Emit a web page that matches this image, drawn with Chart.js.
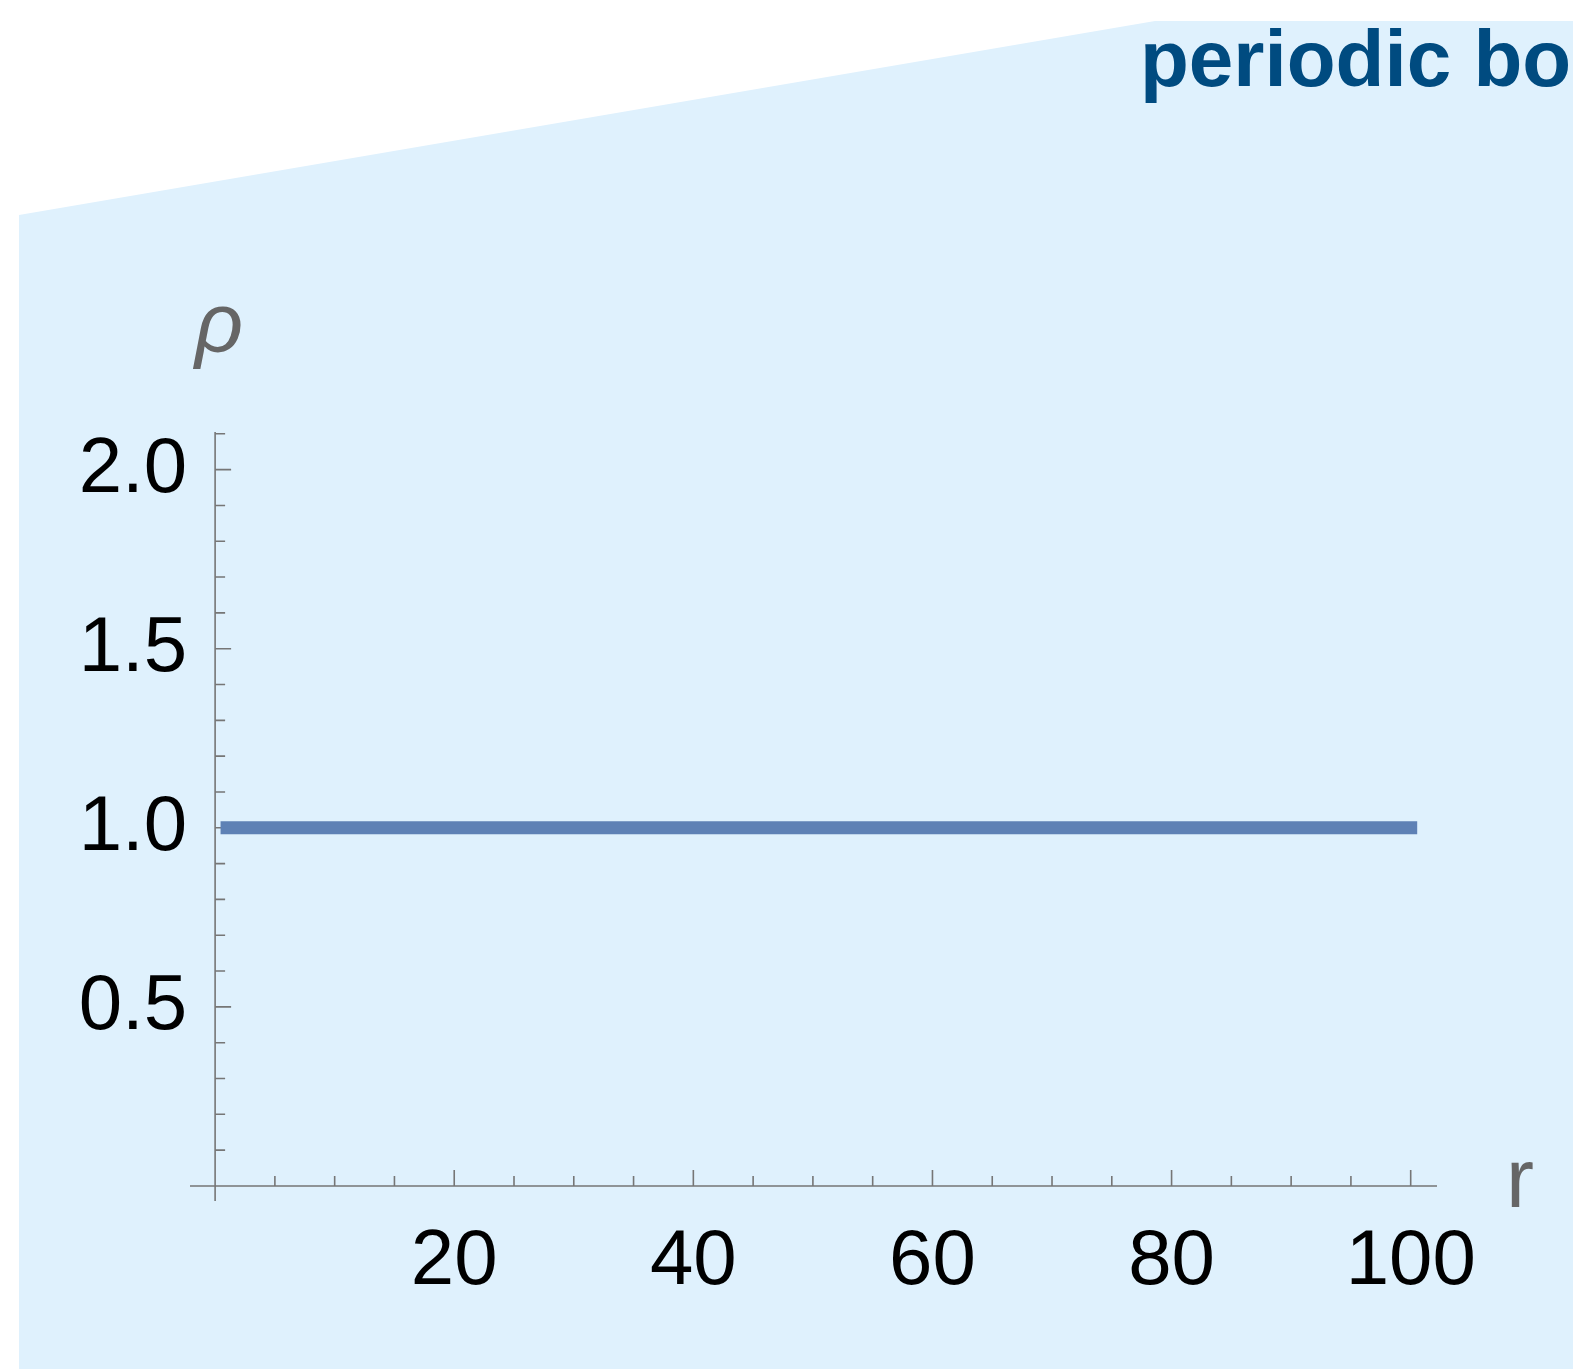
<!DOCTYPE html>
<html>
<head>
<meta charset="utf-8">
<script src="https://cdn.jsdelivr.net/npm/chart.js@4/dist/chart.umd.min.js"></script>
<style>
  html, body { margin: 0; padding: 0; background: #ffffff; }
  #wrap { position: relative; width: 1573px; height: 1369px; overflow: hidden; }
  canvas { display: block; }
</style>
</head>
<body>
<div id="wrap"><canvas id="c" width="1573" height="1369"></canvas></div>
<script>
// ---- data ----
const rValues = [1, 100];
const rhoValues = [1.0, 1.0];
const xTickLabels = [20, 40, 60, 80, 100];
const yTickLabels = [0.5, 1.0, 1.5, 2.0];
const titleText = "periodic boundary conditions";
const xAxisTitle = "r";
const yAxisTitle = "ρ";

const xMinor = [];
for (let v = 5; v <= 100; v += 5) xMinor.push(v);
const yMinor = [];
for (let i = 1; i <= 21; i++) yMinor.push(i / 10);

const FONT = "'Liberation Sans', Arial, Helvetica, sans-serif";
const AXIS_COLOR = 'rgb(118,118,118)';

const decor = {
  id: 'decor',
  beforeDraw(chart) {
    const ctx = chart.ctx;
    ctx.save();
    ctx.fillStyle = '#ffffff';
    ctx.fillRect(0, 0, chart.width, chart.height);
    ctx.fillStyle = '#dff1fd';
    ctx.beginPath();
    ctx.moveTo(19, chart.height);
    ctx.lineTo(19, 215);
    ctx.lineTo(1155, 21);
    ctx.lineTo(chart.width, 21);
    ctx.lineTo(chart.width, chart.height);
    ctx.closePath();
    ctx.fill();
    ctx.restore();
  },
  beforeDatasetsDraw(chart) {
    const ctx = chart.ctx;
    const xs = chart.scales.x, ys = chart.scales.y;
    const x0 = xs.getPixelForValue(0), y0 = ys.getPixelForValue(0);
    ctx.save();
    ctx.strokeStyle = AXIS_COLOR;
    ctx.lineWidth = 1.6;
    // axes
    ctx.beginPath();
    ctx.moveTo(xs.left, y0); ctx.lineTo(xs.right, y0);
    ctx.moveTo(x0, ys.bottom); ctx.lineTo(x0, ys.top);
    ctx.stroke();
    // ticks
    ctx.beginPath();
    xMinor.forEach(v => {
      const px = xs.getPixelForValue(v);
      const len = xTickLabels.includes(v) ? 16 : 10;
      ctx.moveTo(px, y0); ctx.lineTo(px, y0 - len);
    });
    yMinor.forEach(v => {
      const py = ys.getPixelForValue(v);
      const major = yTickLabels.some(t => Math.abs(t - v) < 1e-9);
      const len = major ? 16 : 10;
      ctx.moveTo(x0, py); ctx.lineTo(x0 + len, py);
    });
    ctx.stroke();
    // tick labels
    ctx.fillStyle = '#000000';
    ctx.font = '78px ' + FONT;
    ctx.textAlign = 'center';
    ctx.textBaseline = 'alphabetic';
    xTickLabels.forEach(v => {
      ctx.fillText(String(v), xs.getPixelForValue(v), y0 + 98);
    });
    ctx.textAlign = 'right';
    yTickLabels.forEach(v => {
      ctx.fillText(v.toFixed(1), x0 - 28, ys.getPixelForValue(v) + 22);
    });
    // axis titles
    ctx.fillStyle = 'rgb(102,102,102)';
    ctx.font = '84px ' + FONT;
    ctx.textAlign = 'left';
    ctx.fillText(xAxisTitle, 1506, 1207);
    ctx.font = 'italic 84px ' + FONT;
    ctx.fillText(yAxisTitle, 195, 352);
    // title
    ctx.fillStyle = 'rgb(0,75,128)';
    ctx.font = 'bold 80px ' + FONT;
    ctx.fillText(titleText, 1140, 86);
    ctx.restore();
  }
};

new Chart(document.getElementById('c'), {
  type: 'line',
  data: {
    datasets: [{
      data: rValues.map((r, i) => ({ x: r, y: rhoValues[i] })),
      borderColor: '#5e81b5',
      borderWidth: 13,
      borderCapStyle: 'square',
      pointRadius: 0,
      fill: false,
      tension: 0
    }]
  },
  options: {
    responsive: false,
    animation: false,
    events: [],
    layout: { padding: { left: 190, right: 136, top: 432, bottom: 168 } },
    plugins: { legend: { display: false }, tooltip: { enabled: false }, title: { display: false } },
    scales: {
      x: { type: 'linear', min: -2.1, max: 102.2, display: false },
      y: { type: 'linear', min: -0.042, max: 2.105, display: false }
    }
  },
  plugins: [decor]
});
</script>
</body>
</html>
